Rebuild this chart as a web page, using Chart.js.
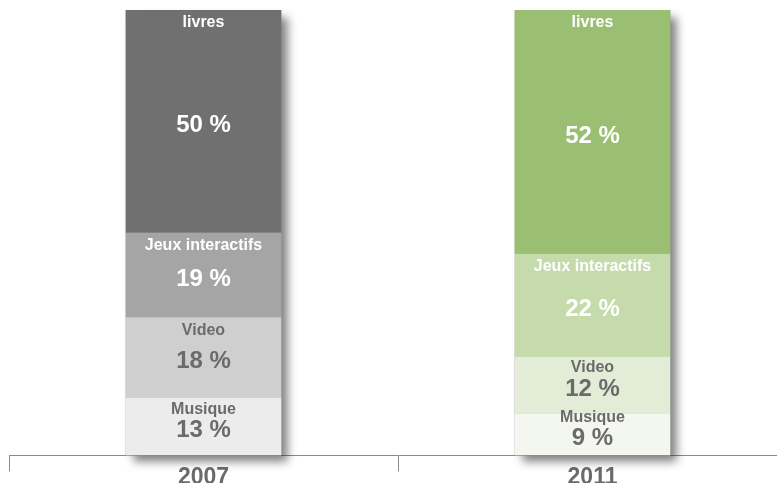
<!DOCTYPE html>
<html>
<head>
<meta charset="utf-8">
<script src="https://cdn.jsdelivr.net/npm/chart.js@4/dist/chart.umd.min.js"></script>
<style>
  html, body { margin: 0; padding: 0; background: #fff; overflow: hidden; }
  #wrap { position: relative; width: 800px; height: 490px; }
</style>
</head>
<body>
<div id="wrap"><canvas id="shareChart"></canvas></div>
<script>
const years = ['2007', '2011'];
const categories = ['Musique', 'Video', 'Jeux interactifs', 'livres'];
const musique = [13, 9];
const video = [18, 12];
const jeux = [19, 22];
const livres = [50, 52];

(() => {
    const FONT = '"Liberation Sans", Arial, sans-serif';
    const GREY_TEXT = '#6b6b6b';

    // couleurs : gris pour 2007, vert pour 2011
    const fills = [
        ['#ececec', '#f4f7ef'],
        ['#d0cfd0', '#e2ecd6'],
        ['#a6a5a6', '#c5dbac'],
        ['#707070', '#9abf72']
    ];
    const textColors = [GREY_TEXT, GREY_TEXT, '#ffffff', '#ffffff'];
    const series = [musique, video, jeux, livres];

    // colonnes empilées à 100 % : chaque valeur rapportée au total de l'année
    const totals = years.map((_, i) => series.reduce((s, arr) => s + arr[i], 0));

    const datasets = categories.map((name, i) => ({
        label: name,
        raw: series[i],
        data: series[i].map((v, j) => v / totals[j] * 100),
        backgroundColor: fills[i],
        borderWidth: 0,
        categoryPercentage: 1,
        barPercentage: 0.4
    }));

    // ombre portée derrière chaque colonne
    const shadowPlugin = {
        id: 'barShadow',
        beforeDatasetsDraw(chart) {
            const ctx = chart.ctx;
            const first = chart.getDatasetMeta(0).data;
            const last = chart.getDatasetMeta(datasets.length - 1).data;
            ctx.save();
            ctx.shadowColor = 'rgba(0,0,0,0.5)';
            ctx.shadowBlur = 9;
            ctx.shadowOffsetX = 7;
            ctx.shadowOffsetY = 7;
            ctx.fillStyle = '#999';
            first.forEach((el, i) => {
                const top = last[i].y;
                const bottom = el.base;
                ctx.fillRect(el.x - el.width / 2, top, el.width, bottom - top);
            });
            ctx.restore();
        }
    };

    // libellés dans les segments
    const labelPlugin = {
        id: 'segmentLabels',
        afterDatasetsDraw(chart) {
            const ctx = chart.ctx;
            ctx.save();
            ctx.textAlign = 'center';
            ctx.textBaseline = 'middle';
            chart.data.datasets.forEach((ds, di) => {
                chart.getDatasetMeta(di).data.forEach((el, i) => {
                    const top = el.y;
                    const bottom = el.base;
                    const valueY = (top + bottom) / 2 + 4;
                    const nameY = Math.min(top + 13, valueY - 21);
                    ctx.fillStyle = textColors[di];
                    ctx.font = 'bold 16px ' + FONT;
                    ctx.fillText(ds.label, el.x, nameY);
                    ctx.font = 'bold 24px ' + FONT;
                    ctx.fillText(ds.raw[i] + ' %', el.x, valueY);
                });
            });
            ctx.restore();
        }
    };

    const canvas = document.getElementById('shareChart');
    new Chart(canvas.getContext('2d'), {
        type: 'bar',
        data: { labels: years, datasets },
        options: {
            responsive: true,
            maintainAspectRatio: false,
            animation: false,
            events: [],
            layout: { padding: { top: 10, left: 9, right: 13, bottom: 7 } },
            plugins: {
                legend: { display: false },
                tooltip: { enabled: false }
            },
            scales: {
                x: {
                    stacked: true,
                    grid: {
                        offset: true,
                        drawOnChartArea: false,
                        tickLength: 16,
                        color: '#8a8a8a',
                        lineWidth: 1
                    },
                    border: { color: '#8a8a8a', width: 1 },
                    ticks: {
                        color: GREY_TEXT,
                        padding: -8,
                        font: { family: FONT, size: 23, weight: 'bold' }
                    }
                },
                y: {
                    stacked: true,
                    display: false,
                    min: 0,
                    max: 100
                }
            }
        },
        plugins: [shadowPlugin, labelPlugin]
    });
})();
</script>
</body>
</html>
